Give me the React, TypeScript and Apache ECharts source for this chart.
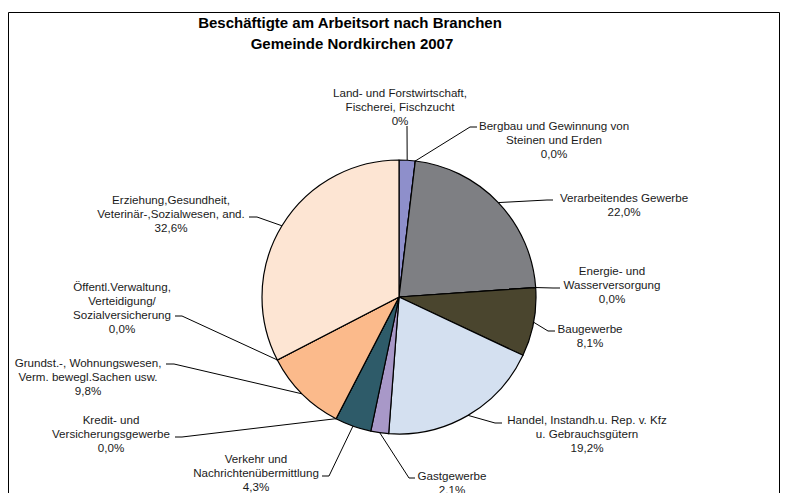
import React, { useEffect, useRef } from "react";
import * as echarts from "echarts";

// ---- data ----
const categories = [
  "Land- und Forstwirtschaft, Fischerei, Fischzucht",
  "Bergbau und Gewinnung von Steinen und Erden",
  "Verarbeitendes Gewerbe",
  "Energie- und Wasserversorgung",
  "Baugewerbe",
  "Handel, Instandh.u. Rep. v. Kfz u. Gebrauchsgütern",
  "Gastgewerbe",
  "Verkehr und Nachrichtenübermittlung",
  "Kredit- und Versicherungsgewerbe",
  "Grundst.-, Wohnungswesen, Verm. bewegl.Sachen usw.",
  "Öffentl.Verwaltung, Verteidigung/ Sozialversicherung",
  "Erziehung,Gesundheit, Veterinär-,Sozialwesen, and.",
];
const labelTexts = [
  "Land- und Forstwirtschaft,\nFischerei, Fischzucht",
  "Bergbau und Gewinnung von\nSteinen und Erden",
  "Verarbeitendes Gewerbe",
  "Energie- und\nWasserversorgung",
  "Baugewerbe",
  "Handel, Instandh.u. Rep. v. Kfz\nu. Gebrauchsgütern",
  "Gastgewerbe",
  "Verkehr und\nNachrichtenübermittlung",
  "Kredit- und\nVersicherungsgewerbe",
  "Grundst.-, Wohnungswesen,\nVerm. bewegl.Sachen usw.",
  "Öffentl.Verwaltung,\nVerteidigung/\nSozialversicherung",
  "Erziehung,Gesundheit,\nVeterinär-,Sozialwesen, and.",
];
const values = [1.9, 0, 22.0, 0, 8.1, 19.2, 2.1, 4.3, 0, 9.8, 0, 32.6];
const pctLabels = ["0%", "0,0%", "22,0%", "0,0%", "8,1%", "19,2%", "2,1%", "4,3%", "0,0%", "9,8%", "0,0%", "32,6%"];
const titleLines = ["Beschäftigte am Arbeitsort nach Branchen", "Gemeinde Nordkirchen 2007"];

// ---- styling / layout ----
const colors = [
  "#8E8FCB", "#8E8FCB", "#7E7F83", "#7E7F83", "#4A452E", "#D4E0F0",
  "#A898C8", "#2E5B69", "#2E5B69", "#FBBA8B", "#FBBA8B", "#FDE5D3",
];
// label centre (x,y), line end at label (ax,ay), elbow (ex,ey)
const labelLayoutPos = [
  { x: 400, y: 106, ax: 407, ay: 126, ex: 407, ey: 126 },
  { x: 554, y: 139, ax: 477, ay: 127, ex: 470, ey: 127 },
  { x: 624, y: 204, ax: 553, ay: 200, ex: 547, ey: 200 },
  { x: 612, y: 284, ax: 560, ay: 288, ex: 553, ey: 288 },
  { x: 590, y: 335, ax: 555, ay: 331, ex: 548, ey: 331 },
  { x: 587, y: 433, ax: 502, ay: 423, ex: 495, ey: 423 },
  { x: 452, y: 482, ax: 415, ay: 478, ex: 409, ey: 478 },
  { x: 256, y: 472, ax: 322, ay: 476, ex: 329, ey: 476 },
  { x: 111, y: 433, ax: 175, ay: 437, ex: 182, ey: 437 },
  { x: 88, y: 376, ax: 166, ay: 364, ex: 174, ey: 364 },
  { x: 122, y: 307, ax: 175, ay: 316, ex: 182, ey: 316 },
  { x: 171, y: 213, ax: 249, ay: 217, ex: 257, ey: 217 },
];

const FONT = "'Liberation Sans', Arial, sans-serif";

export default function App() {
  const ref = useRef<HTMLDivElement>(null);
  useEffect(() => {
    if (!ref.current) return;
    const chart = echarts.init(ref.current, null, { renderer: "svg" });
    const data = categories.map((name, i) => ({
      name,
      value: values[i],
      itemStyle: { color: colors[i] },
    }));
    chart.setOption({
      animation: false,
      backgroundColor: "#fff",
      graphic: [
        {
          type: "rect",
          shape: { x: 8.5, y: 12.5, width: 771, height: 500 },
          style: { fill: "none", stroke: "#000", lineWidth: 1 },
          z: 0,
        },
        {
          type: "text",
          x: 350,
          y: 22,
          style: {
            text: titleLines[0],
            fontFamily: FONT,
            fontSize: 15,
            fontWeight: "bold",
            fill: "#000",
            align: "center",
            verticalAlign: "middle",
          },
        },
        {
          type: "text",
          x: 352,
          y: 43,
          style: {
            text: titleLines[1],
            fontFamily: FONT,
            fontSize: 15,
            fontWeight: "bold",
            fill: "#000",
            align: "center",
            verticalAlign: "middle",
          },
        },
      ],
      series: [
        {
          type: "pie",
          center: [399, 297],
          radius: 137,
          startAngle: 90,
          clockwise: true,
          avoidLabelOverlap: false,
          silent: true,
          data,
          itemStyle: { borderColor: "#000", borderWidth: 1.2 },
          label: {
            show: true,
            position: "outside",
            formatter: (p: any) => labelTexts[p.dataIndex] + "\n" + pctLabels[p.dataIndex],
            fontFamily: FONT,
            fontSize: 11.6,
            lineHeight: 14,
            color: "#1a1a1a",
            align: "center",
          },
          labelLine: {
            show: true,
            length: 10,
            length2: 8,
            lineStyle: { color: "#000", width: 1 },
          },
          labelLayout: (params: any) => {
            const p = labelLayoutPos[params.dataIndex];
            const pts = params.labelLinePoints;
            const anchor = pts && pts[0] ? pts[0] : [p.ex, p.ey];
            return {
              x: p.x,
              y: p.y,
              align: "center",
              verticalAlign: "middle",
              labelLinePoints: [anchor, [p.ex, p.ey], [p.ax, p.ay]],
            };
          },
          emphasis: { disabled: true },
        },
      ],
    });
    return () => chart.dispose();
  }, []);
  return (
    <div
      ref={ref}
      style={{ position: "absolute", left: 0, top: 0, width: 785, height: 493 }}
    />
  );
}
